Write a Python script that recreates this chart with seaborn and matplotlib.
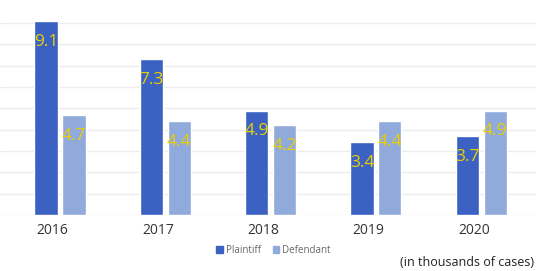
import pandas as pd
import seaborn as sns
import matplotlib.pyplot as plt

years = ['2016', '2017', '2018', '2019', '2020']
plaintiff = [9.1, 7.3, 4.9, 3.4, 3.7]
defendant = [4.7, 4.4, 4.2, 4.4, 4.9]

df = pd.DataFrame({
    'year': years * 2,
    'cases': plaintiff + defendant,
    'side': ['Plaintiff'] * 5 + ['Defendant'] * 5,
})

sns.set_style('white')
plt.rcParams['font.family'] = ['Open Sans', 'DejaVu Sans']

fig = plt.figure(figsize=(5.36, 2.71), dpi=100)
ax = fig.add_axes([0.0, 0.207, 1.0, 0.786])

sns.barplot(data=df, x='year', y='cases', hue='side', ax=ax,
            palette={'Plaintiff': '#3b61c2', 'Defendant': '#91aadc'},
            width=0.53, gap=0.17, saturation=1, legend=False)

ax.set_ylim(0, 10)
ax.set_xlim(-0.57, 4.52)
ax.set_yticks(range(0, 10))
ax.yaxis.grid(True, color='#ececec', linewidth=1)
ax.set_axisbelow(True)
ax.set_yticklabels([])
# year labels sit a little left of the bar groups in the original
ax.set_xticks([i - 0.07 for i in range(len(years))])
ax.set_xticklabels(years)
ax.tick_params(axis='y', length=0)
ax.tick_params(axis='x', length=0, labelsize=10, labelcolor='#333333', pad=6)
ax.set_xlabel('')
ax.set_ylabel('')
for s in ax.spines.values():
    s.set_visible(False)

# yellow value labels just inside the top of each bar
for cont in ax.containers:
    for bar in cont:
        h = bar.get_height()
        ax.annotate(f'{h:.1f}', (bar.get_x() + bar.get_width() / 2, h),
                    xytext=(0, -15), textcoords='offset points',
                    ha='center', va='center', fontsize=12.5, color='#e9d000')

# legend
handles = [plt.Rectangle((0, 0), 1, 1, color='#3b61c2'),
           plt.Rectangle((0, 0), 1, 1, color='#91aadc')]
fig.legend(handles, ['Plaintiff', 'Defendant'], loc='center',
           bbox_to_anchor=(0.51, 0.077), ncol=2, frameon=False,
           fontsize=7, labelcolor='#666666', handlelength=0.7,
           handleheight=0.7, handletextpad=0.3, columnspacing=1.2)

fig.text(0.997, 0.033, '(in thousands of cases)', ha='right', va='center',
         fontsize=9, color='#222222')

fig.savefig('out.png', dpi=100)
